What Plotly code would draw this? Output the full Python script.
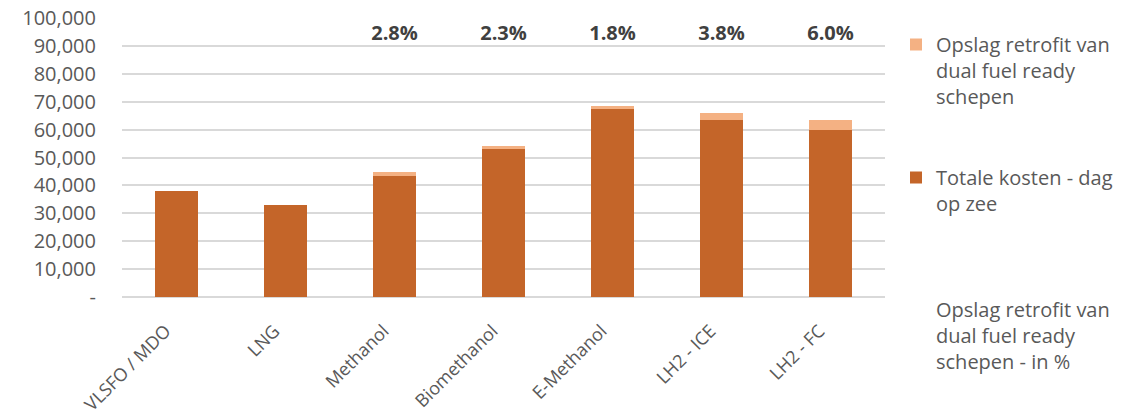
import plotly.graph_objects as go

# Brandstofopties en kosten per dag op zee
categories = ["VLSFO / MDO", "LNG", "Methanol", "Biomethanol", "E-Methanol", "LH2 - ICE", "LH2 - FC"]
base_cost = [38000, 33000, 43500, 53000, 67400, 63500, 60000]
retrofit_pct = [None, None, 2.8, 2.3, 1.8, 3.8, 6.0]
# Opslag retrofit: percentage van de totale kosten
retrofit_cost = [b * p / 100 if p is not None else 0 for b, p in zip(base_cost, retrofit_pct)]

y_ticks = [0, 10000, 20000, 30000, 40000, 50000, 60000, 70000, 80000, 90000, 100000]
y_ticktext = ["-"] + [f"{v:,}" for v in y_ticks[1:]]

DARK = "#C46529"
LIGHT = "#F4B183"
GREY = "#595959"
FONT = "Open Sans"
W, H = 1136, 414
LABEL_Y = 93800

fig = go.Figure()
fig.add_trace(go.Bar(
    x=categories, y=base_cost, name="Totale kosten - dag<br>op zee",
    marker=dict(color=DARK, line=dict(width=0)), legend="legend2",
))
fig.add_trace(go.Bar(
    x=categories, y=retrofit_cost, name="Opslag retrofit van<br>dual fuel ready<br>schepen",
    marker=dict(color=LIGHT, line=dict(width=0)), legend="legend",
))
fig.add_trace(go.Scatter(
    x=categories, y=[LABEL_Y if p is not None else None for p in retrofit_pct],
    mode="lines+text",
    text=[f"{p:.1f}%" if p is not None else "" for p in retrofit_pct],
    textposition="middle center",
    textfont=dict(family=FONT, size=20, color="#404040", weight="bold"),
    line=dict(color="rgba(0,0,0,0)", width=0),
    name="Opslag retrofit van<br>dual fuel ready<br>schepen - in %",
    legend="legend3", hoverinfo="skip",
))

legend_common = dict(
    xref="container", yref="container", x=896 / W, xanchor="left", yanchor="top",
    font=dict(family=FONT, size=20, color=GREY), valign="top",
    bgcolor="rgba(0,0,0,0)", borderwidth=0,
)

fig.update_layout(
    width=W, height=H,
    margin=dict(l=122, r=W - 885, t=18, b=H - 297, autoexpand=False),
    paper_bgcolor="white", plot_bgcolor="white",
    barmode="stack", bargap=0.605,
    font=dict(family=FONT, size=20, color=GREY),
    showlegend=True,
    legend=dict(y=1 - 25 / H, **legend_common),
    legend2=dict(y=1 - 158 / H, **legend_common),
    legend3=dict(y=1 - 290 / H, **legend_common),
    xaxis=dict(
        tickangle=-45, showgrid=False, showline=False, ticks="", automargin=False,
        ticklabelstandoff=19, ticklabelshift=-11,
        tickfont=dict(family=FONT, size=18, color=GREY),
    ),
    yaxis=dict(
        range=[0, 100000], tickvals=y_ticks, ticktext=y_ticktext, automargin=False,
        showgrid=True, gridcolor="#D9D9D9", gridwidth=1.5,
        zeroline=True, zerolinecolor="#D9D9D9", zerolinewidth=1.5,
        showline=False, ticks="", ticklabelstandoff=25,
        tickfont=dict(family=FONT, size=20, color=GREY),
    ),
)

fig.write_html("out.html")
